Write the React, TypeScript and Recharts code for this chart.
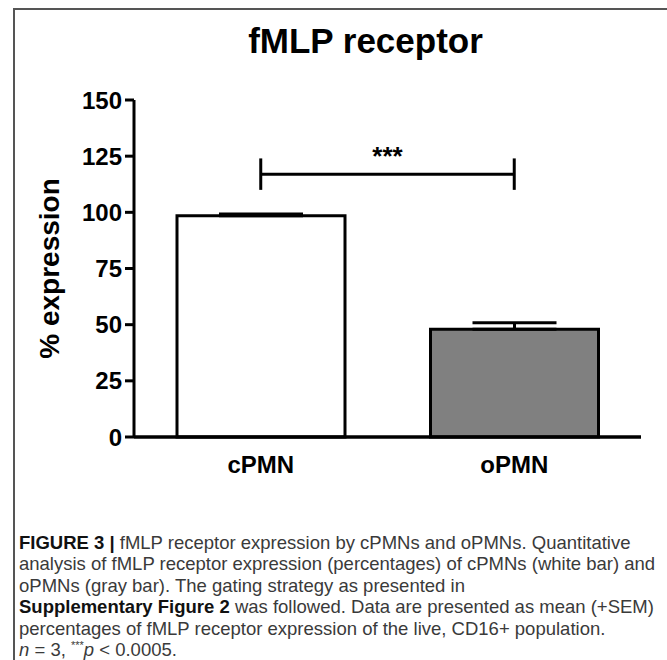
import { BarChart, Bar, XAxis, YAxis, Cell, ErrorBar, ReferenceLine } from "recharts";

const groups = ["cPMN", "oPMN"];
const means = [98.5, 48.0];
const sem = [0.8, 2.9];
const fills = ["#ffffff", "#808080"];
const yTicks = [0, 25, 50, 75, 100, 125, 150];
const bracketY = 117;
const bracketCap = 7;

const data = groups.map((g, i) => ({ group: g, value: means[i], err: [0, sem[i]] }));

const font = "'Liberation Sans', Arial, Helvetica, sans-serif";

const YLabel = (props: any) => {
  const vb = props.viewBox || { x: 0, y: 100, width: 134, height: 337 };
  const cy = vb.y + vb.height / 2;
  const x = 59;
  return (
    <text
      x={x}
      y={cy}
      transform={`rotate(-90 ${x} ${cy})`}
      textAnchor="middle"
      fontSize={28}
      fontWeight="bold"
      fontFamily={font}
      fill="#000"
    >
      % expression
    </text>
  );
};

// caption baselines
const lineY = [549, 570.4, 591.8, 613.2, 634.6, 656];

const Caption = () => {
  const base = { fontFamily: font, fontSize: 18.5, fill: "#3a3a3a" };
  const x = 19;
  return (
    <svg width={667} height={660} style={{ position: "absolute", left: 0, top: 0 }}>
      <text x={x} y={lineY[0]} {...base}>
        <tspan fontWeight="bold" fill="#111">FIGURE 3 |</tspan> fMLP receptor expression by cPMNs and oPMNs. Quantitative
      </text>
      <text x={x} y={lineY[1]} {...base}>
        analysis of fMLP receptor expression (percentages) of cPMNs (white bar) and
      </text>
      <text x={x} y={lineY[2]} {...base}>
        oPMNs (gray bar). The gating strategy as presented in
      </text>
      <text x={x} y={lineY[3]} {...base}>
        <tspan fontWeight="bold" fill="#111">Supplementary Figure 2</tspan> was followed. Data are presented as mean (+SEM)
      </text>
      <text x={x} y={lineY[4]} {...base}>
        percentages of fMLP receptor expression of the live, CD16+ population.
      </text>
      <text x={x} y={lineY[5]} {...base}>
        <tspan fontStyle="italic">n</tspan> = 3, <tspan fontSize={11} dy={-7}>***</tspan>
        <tspan fontStyle="italic" dy={7}>p</tspan> &lt; 0.0005.
      </text>
    </svg>
  );
};

export default function App() {
  return (
    <div
      style={{
        position: "absolute",
        left: 0,
        top: 0,
        width: 667,
        height: 660,
        background: "#fff",
        overflow: "hidden",
      }}
    >
      <div
        style={{
          position: "absolute",
          left: 13,
          top: 8,
          width: 700,
          height: 700,
          borderTop: "2px solid #555",
          borderLeft: "2px solid #555",
        }}
      />
      <div
        style={{
          position: "absolute",
          left: 0,
          width: 731,
          top: 21,
          textAlign: "center",
          fontFamily: font,
          fontWeight: "bold",
          fontSize: 35,
          lineHeight: "40px",
          color: "#000",
        }}
      >
        fMLP receptor
      </div>
      <div style={{ position: "absolute", left: 0, top: 0 }}>
        <BarChart
          width={667}
          height={500}
          data={data}
          margin={{ top: 100, right: 26, left: 0, bottom: 33 }}
        >
          <XAxis
            dataKey="group"
            height={30}
            tickLine={false}
            tickSize={0}
            tickMargin={19}
            axisLine={{ stroke: "#000", strokeWidth: 3.5 }}
            tick={{ fill: "#000", fontSize: 24, fontWeight: "bold", fontFamily: font }}
          />
          <YAxis
            width={134}
            domain={[0, 150]}
            ticks={yTicks}
            interval={0}
            tickSize={9}
            tickMargin={3}
            axisLine={{ stroke: "#000", strokeWidth: 3 }}
            tickLine={{ stroke: "#000", strokeWidth: 3 }}
            tick={{ fill: "#000", fontSize: 24, fontWeight: "bold", fontFamily: font }}
            label={<YLabel />}
          />
          <Bar dataKey="value" barSize={168} stroke="#000" strokeWidth={3} isAnimationActive={false}>
            {data.map((d, i) => (
              <Cell key={d.group} fill={fills[i]} />
            ))}
            <ErrorBar dataKey="err" direction="y" width={42} stroke="#000" strokeWidth={3} isAnimationActive={false} />
          </Bar>
          <ReferenceLine
            segment={[
              { x: groups[0], y: bracketY },
              { x: groups[1], y: bracketY },
            ]}
            stroke="#000"
            strokeWidth={3}
            label={{
              value: "***",
              position: "top",
              offset: 9,
              fill: "#000",
              fontSize: 26,
              fontWeight: "bold",
              fontFamily: font,
            }}
          />
          <ReferenceLine
            segment={[
              { x: groups[0], y: bracketY - bracketCap },
              { x: groups[0], y: bracketY + bracketCap },
            ]}
            stroke="#000"
            strokeWidth={3}
          />
          <ReferenceLine
            segment={[
              { x: groups[1], y: bracketY - bracketCap },
              { x: groups[1], y: bracketY + bracketCap },
            ]}
            stroke="#000"
            strokeWidth={3}
          />
        </BarChart>
      </div>
      <Caption />
    </div>
  );
}
